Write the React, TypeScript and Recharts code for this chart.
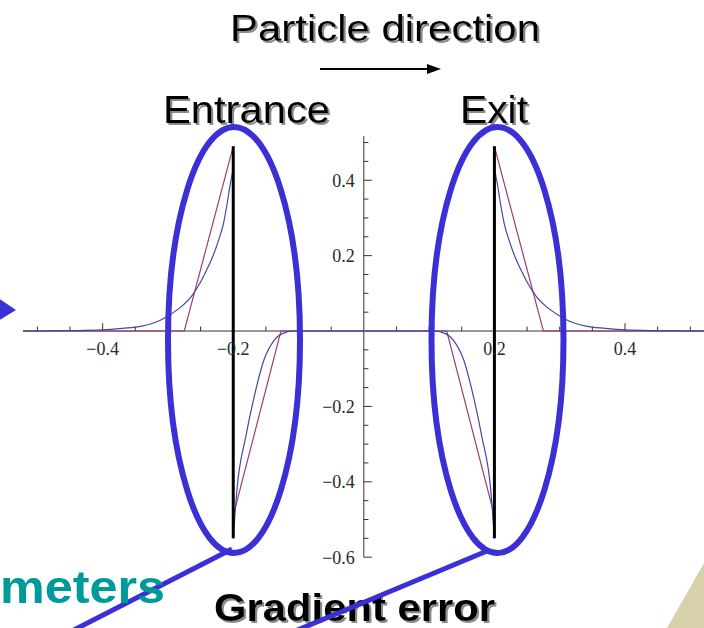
import React from 'react';
import { LineChart, Line, XAxis, YAxis, ReferenceLine } from 'recharts';

// blue curve (smooth fringe field)
const blueLeft = [
  [-0.522, 0], [-0.45, 0.001], [-0.4, 0.003], [-0.37, 0.007], [-0.34, 0.013],
  [-0.315, 0.026], [-0.3, 0.04], [-0.28, 0.064], [-0.264, 0.092], [-0.25, 0.13],
  [-0.243, 0.154], [-0.232, 0.195], [-0.222, 0.243], [-0.215, 0.285], [-0.21, 0.331],
  [-0.205, 0.385], [-0.2, 0.43],
];
const blueMid = [
  [-0.2, -0.55], [-0.194, -0.415], [-0.181, -0.282], [-0.168, -0.175], [-0.153, -0.077],
  [-0.137, -0.024], [-0.125, -0.007], [-0.108, 0], [0.108, 0], [0.125, -0.007],
  [0.137, -0.024], [0.153, -0.077], [0.168, -0.175], [0.181, -0.282], [0.194, -0.415],
  [0.2, -0.55],
];
const blueRight = [
  [0.2, 0.43], [0.205, 0.385], [0.21, 0.331], [0.215, 0.285], [0.222, 0.243],
  [0.232, 0.195], [0.243, 0.154], [0.25, 0.13], [0.264, 0.092], [0.28, 0.064],
  [0.3, 0.04], [0.315, 0.026], [0.34, 0.013], [0.37, 0.007], [0.4, 0.003],
  [0.45, 0.001], [0.521, 0],
];

// red curve (hard-edge linear ramps)
const redLeft = [[-0.522, 0], [-0.275, 0], [-0.2, 0.49]];
const redMid = [[-0.2, -0.49], [-0.127, 0], [0.127, 0], [0.2, -0.49]];
const redRight = [[0.2, 0.49], [0.275, 0], [0.521, 0]];

// black edge markers
const edgeLeft = [[-0.2, 0.49], [-0.2, -0.55]];
const edgeRight = [[0.2, 0.49], [0.2, -0.55]];

// axis ticks
const xMajor = [-0.4, -0.2, 0.2, 0.4];
const xMajorLabels = ['\u22120.4', '\u22120.2', '0.2', '0.4'];
const xMinor = [-0.5, -0.45, -0.35, -0.3, -0.25, -0.15, -0.1, -0.05, 0.05, 0.1, 0.15, 0.25, 0.3, 0.35, 0.45, 0.5];
const yMajor = [0.4, 0.2, -0.2, -0.4, -0.6];
const yMajorLabels = ['0.4', '0.2', '\u22120.2', '\u22120.4', '\u22120.6'];
const yMinor = [0.5, 0.45, 0.35, 0.3, 0.25, 0.15, 0.1, 0.05, -0.05, -0.1, -0.15, -0.25, -0.3, -0.35, -0.45, -0.5, -0.55];

const toPts = (pairs: number[][]) => pairs.map(([x, y]) => ({ x, y }));

const BLUE = '#4646a6';
const RED = '#9c3d6c';
const AXIS = '#333';
const ANNOT = '#3a30d6';
const tickFont = { fontSize: 18, fontFamily: 'Liberation Serif', fill: '#2a2a2a' };

const SlideText = ({ x, y, size, len, bold, fill, children }: any) => (
  <text x={x} y={y} fontFamily="Liberation Sans" fontSize={size} fontWeight={bold ? 700 : 400}
    fill={fill} textLength={len} lengthAdjust="spacingAndGlyphs" filter="url(#shadow)">{children}</text>
);

export default function App() {
  return (
    <div style={{ position: 'absolute', left: 0, top: 0, width: 704, height: 628, background: '#fff' }}>
      <LineChart width={704} height={628} margin={{ top: 135, right: 0, bottom: 59.5, left: 23 }}>
        <XAxis type="number" dataKey="x" domain={[-0.522, 0.521]} allowDataOverflow hide />
        <YAxis type="number" dataKey="y" domain={[-0.63, 0.52]} allowDataOverflow hide />

        <ReferenceLine y={0} stroke={AXIS} strokeWidth={1} />
        <ReferenceLine segment={[{ x: 0, y: -0.6 }, { x: 0, y: 0.517 }]} stroke={AXIS} strokeWidth={1} />

        {xMajor.map((v, i) => (
          <ReferenceLine key={'xM' + v} segment={[{ x: v, y: 0 }, { x: v, y: 0.021 }]} stroke={AXIS}
            label={{ value: xMajorLabels[i], position: 'bottom', offset: 11, ...tickFont }} />
        ))}
        {xMinor.map(v => (
          <ReferenceLine key={'xm' + v} segment={[{ x: v, y: 0 }, { x: v, y: 0.012 }]} stroke={AXIS} />
        ))}
        {yMajor.map((v, i) => (
          <ReferenceLine key={'yM' + v} segment={[{ x: 0, y: v }, { x: 0.0123, y: v }]} stroke={AXIS}
            label={{ value: yMajorLabels[i], position: 'left', offset: 9, ...tickFont }} />
        ))}
        {yMinor.map(v => (
          <ReferenceLine key={'ym' + v} segment={[{ x: 0, y: v }, { x: 0.007, y: v }]} stroke={AXIS} />
        ))}

        <Line data={toPts(redLeft)} dataKey="y" type="linear" stroke={RED} strokeWidth={1.2} dot={false} activeDot={false} isAnimationActive={false} />
        <Line data={toPts(redMid)} dataKey="y" type="linear" stroke={RED} strokeWidth={1.2} dot={false} activeDot={false} isAnimationActive={false} />
        <Line data={toPts(redRight)} dataKey="y" type="linear" stroke={RED} strokeWidth={1.2} dot={false} activeDot={false} isAnimationActive={false} />
        <Line data={toPts(blueLeft)} dataKey="y" type="monotone" stroke={BLUE} strokeWidth={1.2} dot={false} activeDot={false} isAnimationActive={false} />
        <Line data={toPts(blueMid)} dataKey="y" type="monotone" stroke={BLUE} strokeWidth={1.2} dot={false} activeDot={false} isAnimationActive={false} />
        <Line data={toPts(blueRight)} dataKey="y" type="monotone" stroke={BLUE} strokeWidth={1.2} dot={false} activeDot={false} isAnimationActive={false} />
        <Line data={toPts(edgeLeft)} dataKey="y" type="linear" stroke="#000" strokeWidth={3} dot={false} activeDot={false} isAnimationActive={false} />
        <Line data={toPts(edgeRight)} dataKey="y" type="linear" stroke="#000" strokeWidth={3} dot={false} activeDot={false} isAnimationActive={false} />
      </LineChart>

      {/* slide annotations */}
      <svg width={704} height={628} style={{ position: 'absolute', left: 0, top: 0, pointerEvents: 'none' }}>
        <defs>
          <filter id="shadow" x="-10%" y="-30%" width="130%" height="160%">
            <feDropShadow dx="2" dy="2" stdDeviation="0.6" floodColor="#8a8a8a" floodOpacity="1" />
          </filter>
        </defs>
        <SlideText x={230} y={41} size={37} len={310} fill="#000">Particle direction</SlideText>
        <line x1={320} y1={69} x2={430} y2={69} stroke="#000" strokeWidth={2} />
        <polygon points="427,64 441,69 427,74" fill="#000" />
        <SlideText x={163} y={123} size={39} len={167} fill="#000">Entrance</SlideText>
        <SlideText x={460} y={123} size={39} len={68} fill="#000">Exit</SlideText>

        <ellipse cx={234} cy={340} rx={66} ry={213} fill="none" stroke={ANNOT} strokeWidth={6} />
        <ellipse cx={497.5} cy={340} rx={66} ry={213} fill="none" stroke={ANNOT} strokeWidth={6} />

        <polygon points="-2,298 16,310 -2,321" fill={ANNOT} />
        <polygon points="667,628 704,563 704,628" fill="#d6d1ab" />

        <line x1={232} y1={549} x2={68} y2={633} stroke={ANNOT} strokeWidth={5} />
        <text x={0} y={603} fontFamily="Liberation Sans" fontWeight={700} fontSize={46} fill="#009a9a" textLength={165} lengthAdjust="spacingAndGlyphs">meters</text>
        <SlideText x={214} y={621} size={38} len={281} bold fill="#000">Gradient error</SlideText>
        <line x1={487} y1={551} x2={288} y2={634} stroke={ANNOT} strokeWidth={5} />
      </svg>
    </div>
  );
}
